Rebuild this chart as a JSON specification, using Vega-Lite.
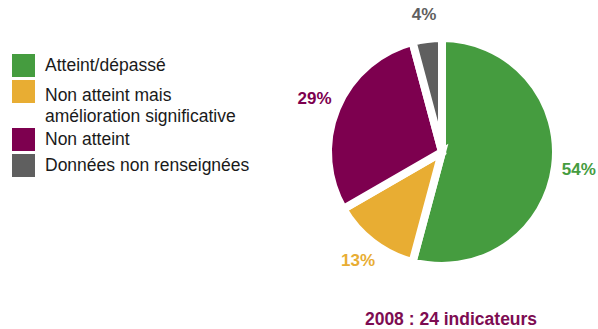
{
  "$schema": "https://vega.github.io/schema/vega-lite/v6.json",
  "width": 270,
  "height": 270,
  "autosize": "none",
  "padding": {"left": 307, "top": 17, "right": 21, "bottom": 42},
  "background": "white",
  "title": {"text": "2008 : 24 indicateurs", "orient": "bottom", "offset": 24, "dx": 9, "color": "#7D0C52", "fontSize": 17.5, "font": "Liberation Sans", "fontWeight": "bold"},
  "data": {"values": [
    {"categorie": "Atteint/dépassé", "indicateurs": 13, "ordre": 1, "pourcentage": "54%"},
    {"categorie": "Non atteint mais amélioration significative", "indicateurs": 3, "ordre": 2, "pourcentage": "13%"},
    {"categorie": "Non atteint", "indicateurs": 7, "ordre": 3, "pourcentage": "29%"},
    {"categorie": "Données non renseignées", "indicateurs": 1, "ordre": 4, "pourcentage": "4%"}
  ]},
  "encoding": {
    "theta": {"field": "indicateurs", "type": "quantitative", "stack": true},
    "order": {"field": "ordre", "type": "quantitative"},
    "color": {
      "field": "categorie",
      "type": "nominal",
      "scale": {
        "domain": ["Atteint/dépassé", "Non atteint mais amélioration significative", "Non atteint", "Données non renseignées"],
        "range": ["#459C3F", "#E8AD33", "#7D004F", "#5F5F5F"]
      },
      "legend": {
        "title": null,
        "orient": "none",
        "legendX": -295,
        "legendY": 37,
        "padding": 0,
        "symbolType": "square",
        "symbolSize": 529,
        "symbolStrokeWidth": 0,
        "symbolOpacity": 1,
        "labelFont": "Liberation Sans",
        "labelFontSize": 17.5,
        "labelColor": "#1a1a1a",
        "labelOffset": 10,
        "labelLimit": 300,
        "labelBaseline": "middle",
        "rowPadding": 3,
        "labelExpr": "datum.label == 'Non atteint mais amélioration significative' ? ['Non atteint mais', 'amélioration significative'] : datum.label",
        "encode": {
          "labels": {
            "update": {
              "lineHeight": {"value": 21},
              "dy": {"signal": "datum.value == 'Non atteint mais amélioration significative' ? 4 : 0"}
            }
          }
        }
      }
    }
  },
  "layer": [
    {"mark": {"type": "arc", "outerRadius": 114, "stroke": "white", "strokeWidth": 8}},
    {"mark": {"type": "text", "radius": 138, "fontSize": 17, "fontWeight": "bold", "font": "Liberation Sans"},
     "encoding": {"text": {"field": "pourcentage", "type": "nominal"}}}
  ],
  "config": {"view": {"stroke": null}}
}
